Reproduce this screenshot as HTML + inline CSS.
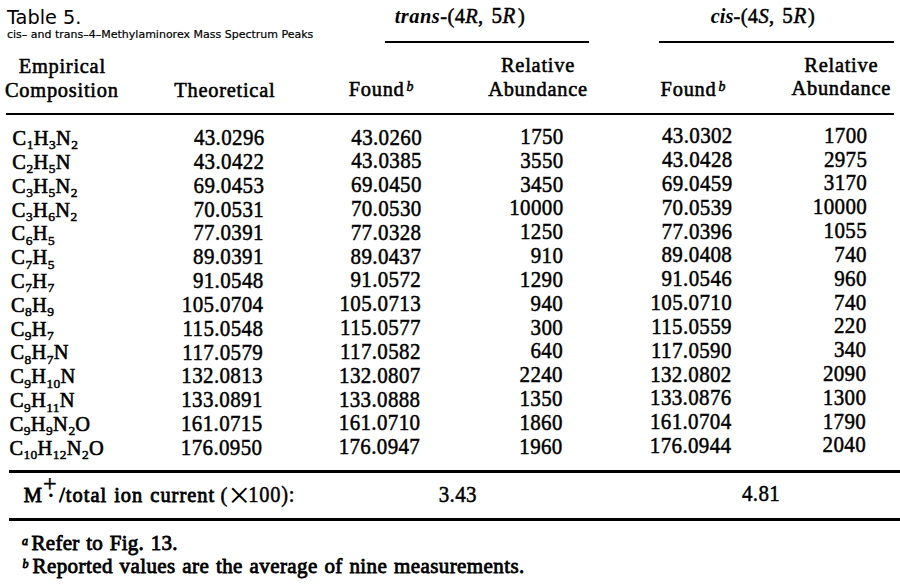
<!DOCTYPE html>
<html><head><meta charset="utf-8">
<style>
html,body{margin:0;padding:0;background:#fff;}
body{width:900px;height:584px;position:relative;overflow:hidden;color:#000;}
.s{position:absolute;white-space:nowrap;font-family:"DejaVu Sans","Liberation Sans",sans-serif;line-height:normal;}
.t{position:absolute;white-space:nowrap;font-family:"Liberation Serif",serif;line-height:normal;}
.hl{position:absolute;background:#000;}
sub{font-size:0.66em;vertical-align:0;position:relative;top:0.33em;line-height:0;-webkit-text-stroke-width:0.5px;letter-spacing:0.2px;}
sup{font-size:0.55em;font-style:italic;position:relative;top:-0.55em;line-height:0;vertical-align:0;margin-right:2px;}
.hs{font-size:0.68em;top:-0.36em;margin-left:2px;margin-right:0;}
.mp{display:inline-block;position:relative;width:0.75em;height:1em;}
.pl{position:absolute;left:0.05em;top:-0.6em;font-weight:bold;}
.dt{position:absolute;left:0.2em;top:-0.05em;}
.x{font-size:1.2em;line-height:0;}
</style></head><body>
<div class="s" style="left:7.00px;top:5.99px;font-size:19.3px;">Table 5.</div>
<div class="s" style="left:7.00px;top:27.69px;font-size:11.0px;-webkit-text-stroke:0.2px #000;">cis– and trans–4–Methylaminorex Mass Spectrum Peaks</div>
<div class="t" style="left:394.70px;top:5.02px;font-size:20.4px;font-weight:normal;font-style:normal;transform:scaleY(1.05);transform-origin:0 18.18px;"><b><i style="letter-spacing:0.5px">trans</i></b><span style="-webkit-text-stroke:0.5px #000;letter-spacing:0.4px">-(4<i>R</i>,</span></div>
<div class="t" style="left:491.50px;top:4.49px;font-size:21px;font-weight:normal;font-style:normal;-webkit-text-stroke:0.5px #000;letter-spacing:0.6px;transform:scaleY(1.05);transform-origin:0 18.71px;">5<i>R</i></div>
<div class="t" style="left:518.00px;top:5.02px;font-size:20.4px;font-weight:normal;font-style:normal;-webkit-text-stroke:0.5px #000;transform:scaleY(1.05);transform-origin:0 18.18px;">)</div>
<div class="t" style="left:710.80px;top:5.02px;font-size:20.4px;font-weight:normal;font-style:normal;transform:scaleY(1.05);transform-origin:0 18.18px;"><b><i>cis</i></b><span style="-webkit-text-stroke:0.5px #000;letter-spacing:0.4px">-(4<i>S</i>,</span></div>
<div class="t" style="left:782.30px;top:4.49px;font-size:21px;font-weight:normal;font-style:normal;-webkit-text-stroke:0.5px #000;letter-spacing:0.6px;transform:scaleY(1.05);transform-origin:0 18.71px;">5<i>R</i></div>
<div class="t" style="left:808.00px;top:5.02px;font-size:20.4px;font-weight:normal;font-style:normal;-webkit-text-stroke:0.5px #000;transform:scaleY(1.05);transform-origin:0 18.18px;">)</div>
<div class="hl" style="left:384.7px;top:40.8px;width:204.3px;height:2.3px;"></div>
<div class="hl" style="left:658.9px;top:40.8px;width:235.3px;height:2.3px;"></div>
<div class="t" style="left:18.70px;top:55.47px;font-size:20.4px;font-weight:normal;font-style:normal;-webkit-text-stroke:0.55px #000;letter-spacing:0.75px;transform:scaleY(1.05);transform-origin:0 18.18px;">Empirical</div>
<div class="t" style="left:5.00px;top:79.17px;font-size:20.4px;font-weight:normal;font-style:normal;-webkit-text-stroke:0.55px #000;letter-spacing:0.75px;transform:scaleY(1.05);transform-origin:0 18.18px;">Composition</div>
<div class="t" style="left:174.30px;top:78.76px;font-size:20.4px;font-weight:normal;font-style:normal;-webkit-text-stroke:0.55px #000;letter-spacing:0.75px;transform:scaleY(1.05);transform-origin:0 18.18px;">Theoretical</div>
<div class="t" style="left:348.70px;top:78.37px;font-size:20.4px;font-weight:normal;font-style:normal;-webkit-text-stroke:0.55px #000;letter-spacing:0.75px;transform:scaleY(1.05);transform-origin:0 18.18px;">Found<sup class="hs">b</sup></div>
<div class="t" style="left:538.00px;top:54.28px;font-size:20.4px;font-weight:normal;font-style:normal;-webkit-text-stroke:0.55px #000;letter-spacing:0.75px;transform:translateX(-50%) scaleY(1.05);transform-origin:0 18.18px;">Relative</div>
<div class="t" style="left:538.00px;top:77.98px;font-size:20.4px;font-weight:normal;font-style:normal;-webkit-text-stroke:0.55px #000;letter-spacing:0.75px;transform:translateX(-50%) scaleY(1.05);transform-origin:0 18.18px;">Abundance</div>
<div class="t" style="left:660.60px;top:77.60px;font-size:20.4px;font-weight:normal;font-style:normal;-webkit-text-stroke:0.55px #000;letter-spacing:0.75px;transform:scaleY(1.05);transform-origin:0 18.18px;">Found<sup class="hs">b</sup></div>
<div class="t" style="left:841.30px;top:53.52px;font-size:20.4px;font-weight:normal;font-style:normal;-webkit-text-stroke:0.55px #000;letter-spacing:0.75px;transform:translateX(-50%) scaleY(1.05);transform-origin:0 18.18px;">Relative</div>
<div class="t" style="left:841.30px;top:77.22px;font-size:20.4px;font-weight:normal;font-style:normal;-webkit-text-stroke:0.55px #000;letter-spacing:0.75px;transform:translateX(-50%) scaleY(1.05);transform-origin:0 18.18px;">Abundance</div>
<div class="hl" style="left:5.7px;top:112.8px;width:888.6px;height:2.4px;"></div>
<div class="t" style="left:12.60px;top:127.03px;font-size:20.4px;font-weight:normal;font-style:normal;-webkit-text-stroke:0.6px #000;letter-spacing:0.6px;">C<sub>1</sub>H<sub>3</sub>N<sub>2</sub></div>
<div class="t" style="right:635.40px;top:126.09px;font-size:21.0px;font-weight:normal;font-style:normal;-webkit-text-stroke:0.45px #000;letter-spacing:0.35px;transform:scaleY(1.14);transform-origin:0 18.71px;">43.0296</div>
<div class="t" style="right:478.00px;top:125.50px;font-size:21.0px;font-weight:normal;font-style:normal;-webkit-text-stroke:0.45px #000;letter-spacing:0.35px;transform:scaleY(1.14);transform-origin:0 18.71px;">43.0260</div>
<div class="t" style="right:336.30px;top:124.91px;font-size:21.0px;font-weight:normal;font-style:normal;-webkit-text-stroke:0.45px #000;letter-spacing:0.35px;transform:scaleY(1.14);transform-origin:0 18.71px;">1750</div>
<div class="t" style="right:167.30px;top:124.30px;font-size:21.0px;font-weight:normal;font-style:normal;-webkit-text-stroke:0.45px #000;letter-spacing:0.35px;transform:scaleY(1.14);transform-origin:0 18.71px;">43.0302</div>
<div class="t" style="right:32.60px;top:123.75px;font-size:21.0px;font-weight:normal;font-style:normal;-webkit-text-stroke:0.45px #000;letter-spacing:0.35px;transform:scaleY(1.14);transform-origin:0 18.71px;">1700</div>
<div class="t" style="left:12.35px;top:150.85px;font-size:20.4px;font-weight:normal;font-style:normal;-webkit-text-stroke:0.6px #000;letter-spacing:0.6px;">C<sub>2</sub>H<sub>5</sub>N</div>
<div class="t" style="right:635.57px;top:149.91px;font-size:21.0px;font-weight:normal;font-style:normal;-webkit-text-stroke:0.45px #000;letter-spacing:0.35px;transform:scaleY(1.14);transform-origin:0 18.71px;">43.0422</div>
<div class="t" style="right:478.14px;top:149.32px;font-size:21.0px;font-weight:normal;font-style:normal;-webkit-text-stroke:0.45px #000;letter-spacing:0.35px;transform:scaleY(1.14);transform-origin:0 18.71px;">43.0385</div>
<div class="t" style="right:336.38px;top:148.73px;font-size:21.0px;font-weight:normal;font-style:normal;-webkit-text-stroke:0.45px #000;letter-spacing:0.35px;transform:scaleY(1.14);transform-origin:0 18.71px;">3550</div>
<div class="t" style="right:167.40px;top:148.13px;font-size:21.0px;font-weight:normal;font-style:normal;-webkit-text-stroke:0.45px #000;letter-spacing:0.35px;transform:scaleY(1.14);transform-origin:0 18.71px;">43.0428</div>
<div class="t" style="right:32.71px;top:147.58px;font-size:21.0px;font-weight:normal;font-style:normal;-webkit-text-stroke:0.45px #000;letter-spacing:0.35px;transform:scaleY(1.14);transform-origin:0 18.71px;">2975</div>
<div class="t" style="left:12.11px;top:174.67px;font-size:20.4px;font-weight:normal;font-style:normal;-webkit-text-stroke:0.6px #000;letter-spacing:0.6px;">C<sub>3</sub>H<sub>5</sub>N<sub>2</sub></div>
<div class="t" style="right:635.74px;top:173.74px;font-size:21.0px;font-weight:normal;font-style:normal;-webkit-text-stroke:0.45px #000;letter-spacing:0.35px;transform:scaleY(1.14);transform-origin:0 18.71px;">69.0453</div>
<div class="t" style="right:478.28px;top:173.15px;font-size:21.0px;font-weight:normal;font-style:normal;-webkit-text-stroke:0.45px #000;letter-spacing:0.35px;transform:scaleY(1.14);transform-origin:0 18.71px;">69.0450</div>
<div class="t" style="right:336.45px;top:172.56px;font-size:21.0px;font-weight:normal;font-style:normal;-webkit-text-stroke:0.45px #000;letter-spacing:0.35px;transform:scaleY(1.14);transform-origin:0 18.71px;">3450</div>
<div class="t" style="right:167.50px;top:171.95px;font-size:21.0px;font-weight:normal;font-style:normal;-webkit-text-stroke:0.45px #000;letter-spacing:0.35px;transform:scaleY(1.14);transform-origin:0 18.71px;">69.0459</div>
<div class="t" style="right:32.82px;top:171.40px;font-size:21.0px;font-weight:normal;font-style:normal;-webkit-text-stroke:0.45px #000;letter-spacing:0.35px;transform:scaleY(1.14);transform-origin:0 18.71px;">3170</div>
<div class="t" style="left:11.86px;top:198.50px;font-size:20.4px;font-weight:normal;font-style:normal;-webkit-text-stroke:0.6px #000;letter-spacing:0.6px;">C<sub>3</sub>H<sub>6</sub>N<sub>2</sub></div>
<div class="t" style="right:635.91px;top:197.56px;font-size:21.0px;font-weight:normal;font-style:normal;-webkit-text-stroke:0.45px #000;letter-spacing:0.35px;transform:scaleY(1.14);transform-origin:0 18.71px;">70.0531</div>
<div class="t" style="right:478.42px;top:196.97px;font-size:21.0px;font-weight:normal;font-style:normal;-webkit-text-stroke:0.45px #000;letter-spacing:0.35px;transform:scaleY(1.14);transform-origin:0 18.71px;">70.0530</div>
<div class="t" style="right:336.53px;top:196.38px;font-size:21.0px;font-weight:normal;font-style:normal;-webkit-text-stroke:0.45px #000;letter-spacing:0.35px;transform:scaleY(1.14);transform-origin:0 18.71px;">10000</div>
<div class="t" style="right:167.60px;top:195.77px;font-size:21.0px;font-weight:normal;font-style:normal;-webkit-text-stroke:0.45px #000;letter-spacing:0.35px;transform:scaleY(1.14);transform-origin:0 18.71px;">70.0539</div>
<div class="t" style="right:32.92px;top:195.22px;font-size:21.0px;font-weight:normal;font-style:normal;-webkit-text-stroke:0.45px #000;letter-spacing:0.35px;transform:scaleY(1.14);transform-origin:0 18.71px;">10000</div>
<div class="t" style="left:11.62px;top:222.32px;font-size:20.4px;font-weight:normal;font-style:normal;-webkit-text-stroke:0.6px #000;letter-spacing:0.6px;">C<sub>6</sub>H<sub>5</sub></div>
<div class="t" style="right:636.08px;top:221.38px;font-size:21.0px;font-weight:normal;font-style:normal;-webkit-text-stroke:0.45px #000;letter-spacing:0.35px;transform:scaleY(1.14);transform-origin:0 18.71px;">77.0391</div>
<div class="t" style="right:478.55px;top:220.79px;font-size:21.0px;font-weight:normal;font-style:normal;-webkit-text-stroke:0.45px #000;letter-spacing:0.35px;transform:scaleY(1.14);transform-origin:0 18.71px;">77.0328</div>
<div class="t" style="right:336.61px;top:220.20px;font-size:21.0px;font-weight:normal;font-style:normal;-webkit-text-stroke:0.45px #000;letter-spacing:0.35px;transform:scaleY(1.14);transform-origin:0 18.71px;">1250</div>
<div class="t" style="right:167.70px;top:219.60px;font-size:21.0px;font-weight:normal;font-style:normal;-webkit-text-stroke:0.45px #000;letter-spacing:0.35px;transform:scaleY(1.14);transform-origin:0 18.71px;">77.0396</div>
<div class="t" style="right:33.03px;top:219.04px;font-size:21.0px;font-weight:normal;font-style:normal;-webkit-text-stroke:0.45px #000;letter-spacing:0.35px;transform:scaleY(1.14);transform-origin:0 18.71px;">1055</div>
<div class="t" style="left:11.37px;top:246.14px;font-size:20.4px;font-weight:normal;font-style:normal;-webkit-text-stroke:0.6px #000;letter-spacing:0.6px;">C<sub>7</sub>H<sub>5</sub></div>
<div class="t" style="right:636.25px;top:245.20px;font-size:21.0px;font-weight:normal;font-style:normal;-webkit-text-stroke:0.45px #000;letter-spacing:0.35px;transform:scaleY(1.14);transform-origin:0 18.71px;">89.0391</div>
<div class="t" style="right:478.69px;top:244.62px;font-size:21.0px;font-weight:normal;font-style:normal;-webkit-text-stroke:0.45px #000;letter-spacing:0.35px;transform:scaleY(1.14);transform-origin:0 18.71px;">89.0437</div>
<div class="t" style="right:336.68px;top:244.03px;font-size:21.0px;font-weight:normal;font-style:normal;-webkit-text-stroke:0.45px #000;letter-spacing:0.35px;transform:scaleY(1.14);transform-origin:0 18.71px;">910</div>
<div class="t" style="right:167.80px;top:243.42px;font-size:21.0px;font-weight:normal;font-style:normal;-webkit-text-stroke:0.45px #000;letter-spacing:0.35px;transform:scaleY(1.14);transform-origin:0 18.71px;">89.0408</div>
<div class="t" style="right:33.14px;top:242.87px;font-size:21.0px;font-weight:normal;font-style:normal;-webkit-text-stroke:0.45px #000;letter-spacing:0.35px;transform:scaleY(1.14);transform-origin:0 18.71px;">740</div>
<div class="t" style="left:11.12px;top:269.97px;font-size:20.4px;font-weight:normal;font-style:normal;-webkit-text-stroke:0.6px #000;letter-spacing:0.6px;">C<sub>7</sub>H<sub>7</sub></div>
<div class="t" style="right:636.42px;top:269.03px;font-size:21.0px;font-weight:normal;font-style:normal;-webkit-text-stroke:0.45px #000;letter-spacing:0.35px;transform:scaleY(1.14);transform-origin:0 18.71px;">91.0548</div>
<div class="t" style="right:478.83px;top:268.44px;font-size:21.0px;font-weight:normal;font-style:normal;-webkit-text-stroke:0.45px #000;letter-spacing:0.35px;transform:scaleY(1.14);transform-origin:0 18.71px;">91.0572</div>
<div class="t" style="right:336.76px;top:267.85px;font-size:21.0px;font-weight:normal;font-style:normal;-webkit-text-stroke:0.45px #000;letter-spacing:0.35px;transform:scaleY(1.14);transform-origin:0 18.71px;">1290</div>
<div class="t" style="right:167.90px;top:267.24px;font-size:21.0px;font-weight:normal;font-style:normal;-webkit-text-stroke:0.45px #000;letter-spacing:0.35px;transform:scaleY(1.14);transform-origin:0 18.71px;">91.0546</div>
<div class="t" style="right:33.25px;top:266.69px;font-size:21.0px;font-weight:normal;font-style:normal;-webkit-text-stroke:0.45px #000;letter-spacing:0.35px;transform:scaleY(1.14);transform-origin:0 18.71px;">960</div>
<div class="t" style="left:10.88px;top:293.79px;font-size:20.4px;font-weight:normal;font-style:normal;-webkit-text-stroke:0.6px #000;letter-spacing:0.6px;">C<sub>8</sub>H<sub>9</sub></div>
<div class="t" style="right:636.58px;top:292.85px;font-size:21.0px;font-weight:normal;font-style:normal;-webkit-text-stroke:0.45px #000;letter-spacing:0.35px;transform:scaleY(1.14);transform-origin:0 18.71px;">105.0704</div>
<div class="t" style="right:478.97px;top:292.26px;font-size:21.0px;font-weight:normal;font-style:normal;-webkit-text-stroke:0.45px #000;letter-spacing:0.35px;transform:scaleY(1.14);transform-origin:0 18.71px;">105.0713</div>
<div class="t" style="right:336.84px;top:291.67px;font-size:21.0px;font-weight:normal;font-style:normal;-webkit-text-stroke:0.45px #000;letter-spacing:0.35px;transform:scaleY(1.14);transform-origin:0 18.71px;">940</div>
<div class="t" style="right:168.00px;top:291.06px;font-size:21.0px;font-weight:normal;font-style:normal;-webkit-text-stroke:0.45px #000;letter-spacing:0.35px;transform:scaleY(1.14);transform-origin:0 18.71px;">105.0710</div>
<div class="t" style="right:33.35px;top:290.51px;font-size:21.0px;font-weight:normal;font-style:normal;-webkit-text-stroke:0.45px #000;letter-spacing:0.35px;transform:scaleY(1.14);transform-origin:0 18.71px;">740</div>
<div class="t" style="left:10.63px;top:317.61px;font-size:20.4px;font-weight:normal;font-style:normal;-webkit-text-stroke:0.6px #000;letter-spacing:0.6px;">C<sub>9</sub>H<sub>7</sub></div>
<div class="t" style="right:636.75px;top:316.67px;font-size:21.0px;font-weight:normal;font-style:normal;-webkit-text-stroke:0.45px #000;letter-spacing:0.35px;transform:scaleY(1.14);transform-origin:0 18.71px;">115.0548</div>
<div class="t" style="right:479.11px;top:316.08px;font-size:21.0px;font-weight:normal;font-style:normal;-webkit-text-stroke:0.45px #000;letter-spacing:0.35px;transform:scaleY(1.14);transform-origin:0 18.71px;">115.0577</div>
<div class="t" style="right:336.92px;top:315.50px;font-size:21.0px;font-weight:normal;font-style:normal;-webkit-text-stroke:0.45px #000;letter-spacing:0.35px;transform:scaleY(1.14);transform-origin:0 18.71px;">300</div>
<div class="t" style="right:168.10px;top:314.89px;font-size:21.0px;font-weight:normal;font-style:normal;-webkit-text-stroke:0.45px #000;letter-spacing:0.35px;transform:scaleY(1.14);transform-origin:0 18.71px;">115.0559</div>
<div class="t" style="right:33.46px;top:314.34px;font-size:21.0px;font-weight:normal;font-style:normal;-webkit-text-stroke:0.45px #000;letter-spacing:0.35px;transform:scaleY(1.14);transform-origin:0 18.71px;">220</div>
<div class="t" style="left:10.38px;top:341.43px;font-size:20.4px;font-weight:normal;font-style:normal;-webkit-text-stroke:0.6px #000;letter-spacing:0.6px;">C<sub>8</sub>H<sub>7</sub>N</div>
<div class="t" style="right:636.92px;top:340.50px;font-size:21.0px;font-weight:normal;font-style:normal;-webkit-text-stroke:0.45px #000;letter-spacing:0.35px;transform:scaleY(1.14);transform-origin:0 18.71px;">117.0579</div>
<div class="t" style="right:479.25px;top:339.91px;font-size:21.0px;font-weight:normal;font-style:normal;-webkit-text-stroke:0.45px #000;letter-spacing:0.35px;transform:scaleY(1.14);transform-origin:0 18.71px;">117.0582</div>
<div class="t" style="right:336.99px;top:339.32px;font-size:21.0px;font-weight:normal;font-style:normal;-webkit-text-stroke:0.45px #000;letter-spacing:0.35px;transform:scaleY(1.14);transform-origin:0 18.71px;">640</div>
<div class="t" style="right:168.20px;top:338.71px;font-size:21.0px;font-weight:normal;font-style:normal;-webkit-text-stroke:0.45px #000;letter-spacing:0.35px;transform:scaleY(1.14);transform-origin:0 18.71px;">117.0590</div>
<div class="t" style="right:33.57px;top:338.16px;font-size:21.0px;font-weight:normal;font-style:normal;-webkit-text-stroke:0.45px #000;letter-spacing:0.35px;transform:scaleY(1.14);transform-origin:0 18.71px;">340</div>
<div class="t" style="left:10.14px;top:365.26px;font-size:20.4px;font-weight:normal;font-style:normal;-webkit-text-stroke:0.6px #000;letter-spacing:0.6px;">C<sub>9</sub>H<sub>10</sub>N</div>
<div class="t" style="right:637.09px;top:364.32px;font-size:21.0px;font-weight:normal;font-style:normal;-webkit-text-stroke:0.45px #000;letter-spacing:0.35px;transform:scaleY(1.14);transform-origin:0 18.71px;">132.0813</div>
<div class="t" style="right:479.38px;top:363.73px;font-size:21.0px;font-weight:normal;font-style:normal;-webkit-text-stroke:0.45px #000;letter-spacing:0.35px;transform:scaleY(1.14);transform-origin:0 18.71px;">132.0807</div>
<div class="t" style="right:337.07px;top:363.14px;font-size:21.0px;font-weight:normal;font-style:normal;-webkit-text-stroke:0.45px #000;letter-spacing:0.35px;transform:scaleY(1.14);transform-origin:0 18.71px;">2240</div>
<div class="t" style="right:168.30px;top:362.53px;font-size:21.0px;font-weight:normal;font-style:normal;-webkit-text-stroke:0.45px #000;letter-spacing:0.35px;transform:scaleY(1.14);transform-origin:0 18.71px;">132.0802</div>
<div class="t" style="right:33.68px;top:361.98px;font-size:21.0px;font-weight:normal;font-style:normal;-webkit-text-stroke:0.45px #000;letter-spacing:0.35px;transform:scaleY(1.14);transform-origin:0 18.71px;">2090</div>
<div class="t" style="left:9.89px;top:389.08px;font-size:20.4px;font-weight:normal;font-style:normal;-webkit-text-stroke:0.6px #000;letter-spacing:0.6px;">C<sub>9</sub>H<sub>11</sub>N</div>
<div class="t" style="right:637.26px;top:388.14px;font-size:21.0px;font-weight:normal;font-style:normal;-webkit-text-stroke:0.45px #000;letter-spacing:0.35px;transform:scaleY(1.14);transform-origin:0 18.71px;">133.0891</div>
<div class="t" style="right:479.52px;top:387.55px;font-size:21.0px;font-weight:normal;font-style:normal;-webkit-text-stroke:0.45px #000;letter-spacing:0.35px;transform:scaleY(1.14);transform-origin:0 18.71px;">133.0888</div>
<div class="t" style="right:337.15px;top:386.96px;font-size:21.0px;font-weight:normal;font-style:normal;-webkit-text-stroke:0.45px #000;letter-spacing:0.35px;transform:scaleY(1.14);transform-origin:0 18.71px;">1350</div>
<div class="t" style="right:168.40px;top:386.36px;font-size:21.0px;font-weight:normal;font-style:normal;-webkit-text-stroke:0.45px #000;letter-spacing:0.35px;transform:scaleY(1.14);transform-origin:0 18.71px;">133.0876</div>
<div class="t" style="right:33.78px;top:385.81px;font-size:21.0px;font-weight:normal;font-style:normal;-webkit-text-stroke:0.45px #000;letter-spacing:0.35px;transform:scaleY(1.14);transform-origin:0 18.71px;">1300</div>
<div class="t" style="left:9.65px;top:412.90px;font-size:20.4px;font-weight:normal;font-style:normal;-webkit-text-stroke:0.6px #000;letter-spacing:0.6px;">C<sub>9</sub>H<sub>9</sub>N<sub>2</sub>O</div>
<div class="t" style="right:637.43px;top:411.97px;font-size:21.0px;font-weight:normal;font-style:normal;-webkit-text-stroke:0.45px #000;letter-spacing:0.35px;transform:scaleY(1.14);transform-origin:0 18.71px;">161.0715</div>
<div class="t" style="right:479.66px;top:411.38px;font-size:21.0px;font-weight:normal;font-style:normal;-webkit-text-stroke:0.45px #000;letter-spacing:0.35px;transform:scaleY(1.14);transform-origin:0 18.71px;">161.0710</div>
<div class="t" style="right:337.22px;top:410.79px;font-size:21.0px;font-weight:normal;font-style:normal;-webkit-text-stroke:0.45px #000;letter-spacing:0.35px;transform:scaleY(1.14);transform-origin:0 18.71px;">1860</div>
<div class="t" style="right:168.50px;top:410.18px;font-size:21.0px;font-weight:normal;font-style:normal;-webkit-text-stroke:0.45px #000;letter-spacing:0.35px;transform:scaleY(1.14);transform-origin:0 18.71px;">161.0704</div>
<div class="t" style="right:33.89px;top:409.63px;font-size:21.0px;font-weight:normal;font-style:normal;-webkit-text-stroke:0.45px #000;letter-spacing:0.35px;transform:scaleY(1.14);transform-origin:0 18.71px;">1790</div>
<div class="t" style="left:9.40px;top:436.73px;font-size:20.4px;font-weight:normal;font-style:normal;-webkit-text-stroke:0.6px #000;letter-spacing:0.6px;">C<sub>10</sub>H<sub>12</sub>N<sub>2</sub>O</div>
<div class="t" style="right:637.60px;top:435.79px;font-size:21.0px;font-weight:normal;font-style:normal;-webkit-text-stroke:0.45px #000;letter-spacing:0.35px;transform:scaleY(1.14);transform-origin:0 18.71px;">176.0950</div>
<div class="t" style="right:479.80px;top:435.20px;font-size:21.0px;font-weight:normal;font-style:normal;-webkit-text-stroke:0.45px #000;letter-spacing:0.35px;transform:scaleY(1.14);transform-origin:0 18.71px;">176.0947</div>
<div class="t" style="right:337.30px;top:434.61px;font-size:21.0px;font-weight:normal;font-style:normal;-webkit-text-stroke:0.45px #000;letter-spacing:0.35px;transform:scaleY(1.14);transform-origin:0 18.71px;">1960</div>
<div class="t" style="right:168.60px;top:434.00px;font-size:21.0px;font-weight:normal;font-style:normal;-webkit-text-stroke:0.45px #000;letter-spacing:0.35px;transform:scaleY(1.14);transform-origin:0 18.71px;">176.0944</div>
<div class="t" style="right:34.00px;top:433.45px;font-size:21.0px;font-weight:normal;font-style:normal;-webkit-text-stroke:0.45px #000;letter-spacing:0.35px;transform:scaleY(1.14);transform-origin:0 18.71px;">2040</div>
<div class="hl" style="left:9.3px;top:470px;width:890.7px;height:2.6px;"></div>
<div class="t" style="left:23.70px;top:483.82px;font-size:20.4px;font-weight:normal;font-style:normal;-webkit-text-stroke:0.8px #000;">M</div>
<div class="t" style="left:43.00px;top:470.12px;font-size:24px;font-weight:normal;font-style:normal;-webkit-text-stroke:0.5px #000;">+</div>
<div class="t" style="left:47.60px;top:484.32px;font-size:20.4px;font-weight:bold;font-style:normal;">·</div>
<div class="t" style="left:59.20px;top:483.82px;font-size:20.4px;font-weight:normal;font-style:normal;-webkit-text-stroke:0.8px #000;letter-spacing:1.00px;word-spacing:1.00px;">/total ion current</div>
<div class="t" style="left:220.60px;top:483.82px;font-size:20.4px;font-weight:normal;font-style:normal;-webkit-text-stroke:0.6px #000;">(</div>
<div class="t" style="left:228.50px;top:472.64px;font-size:38px;font-weight:normal;font-style:normal;">×</div>
<div class="t" style="left:248.30px;top:483.72px;font-size:20.4px;font-weight:normal;font-style:normal;-webkit-text-stroke:0.45px #000;letter-spacing:0.35px;letter-spacing:0.75px;transform:scaleY(1.14);transform-origin:0 18.18px;">100):</div>
<div class="t" style="left:438.70px;top:482.99px;font-size:21.0px;font-weight:normal;font-style:normal;-webkit-text-stroke:0.45px #000;letter-spacing:0.35px;transform:scaleY(1.14);transform-origin:0 18.71px;">3.43</div>
<div class="t" style="left:742.00px;top:482.09px;font-size:21.0px;font-weight:normal;font-style:normal;-webkit-text-stroke:0.45px #000;letter-spacing:0.35px;transform:scaleY(1.14);transform-origin:0 18.71px;">4.81</div>
<div class="hl" style="left:9.3px;top:518px;width:890.7px;height:2.8px;"></div>
<div class="t" style="left:22.00px;top:533.81px;font-size:12px;font-weight:normal;font-style:normal;-webkit-text-stroke:0.8px #000;"><i>a</i></div>
<div class="t" style="left:31.50px;top:531.29px;font-size:21.0px;font-weight:normal;font-style:normal;-webkit-text-stroke:0.8px #000;letter-spacing:0.30px;word-spacing:1.00px;">Refer to Fig. 13.</div>
<div class="t" style="left:22.50px;top:557.31px;font-size:12px;font-weight:normal;font-style:normal;-webkit-text-stroke:0.8px #000;"><i>b</i></div>
<div class="t" style="left:32.50px;top:554.29px;font-size:21.0px;font-weight:normal;font-style:normal;-webkit-text-stroke:0.8px #000;letter-spacing:0.42px;word-spacing:1.00px;">Reported values are the average of nine measurements.</div>
</body></html>
